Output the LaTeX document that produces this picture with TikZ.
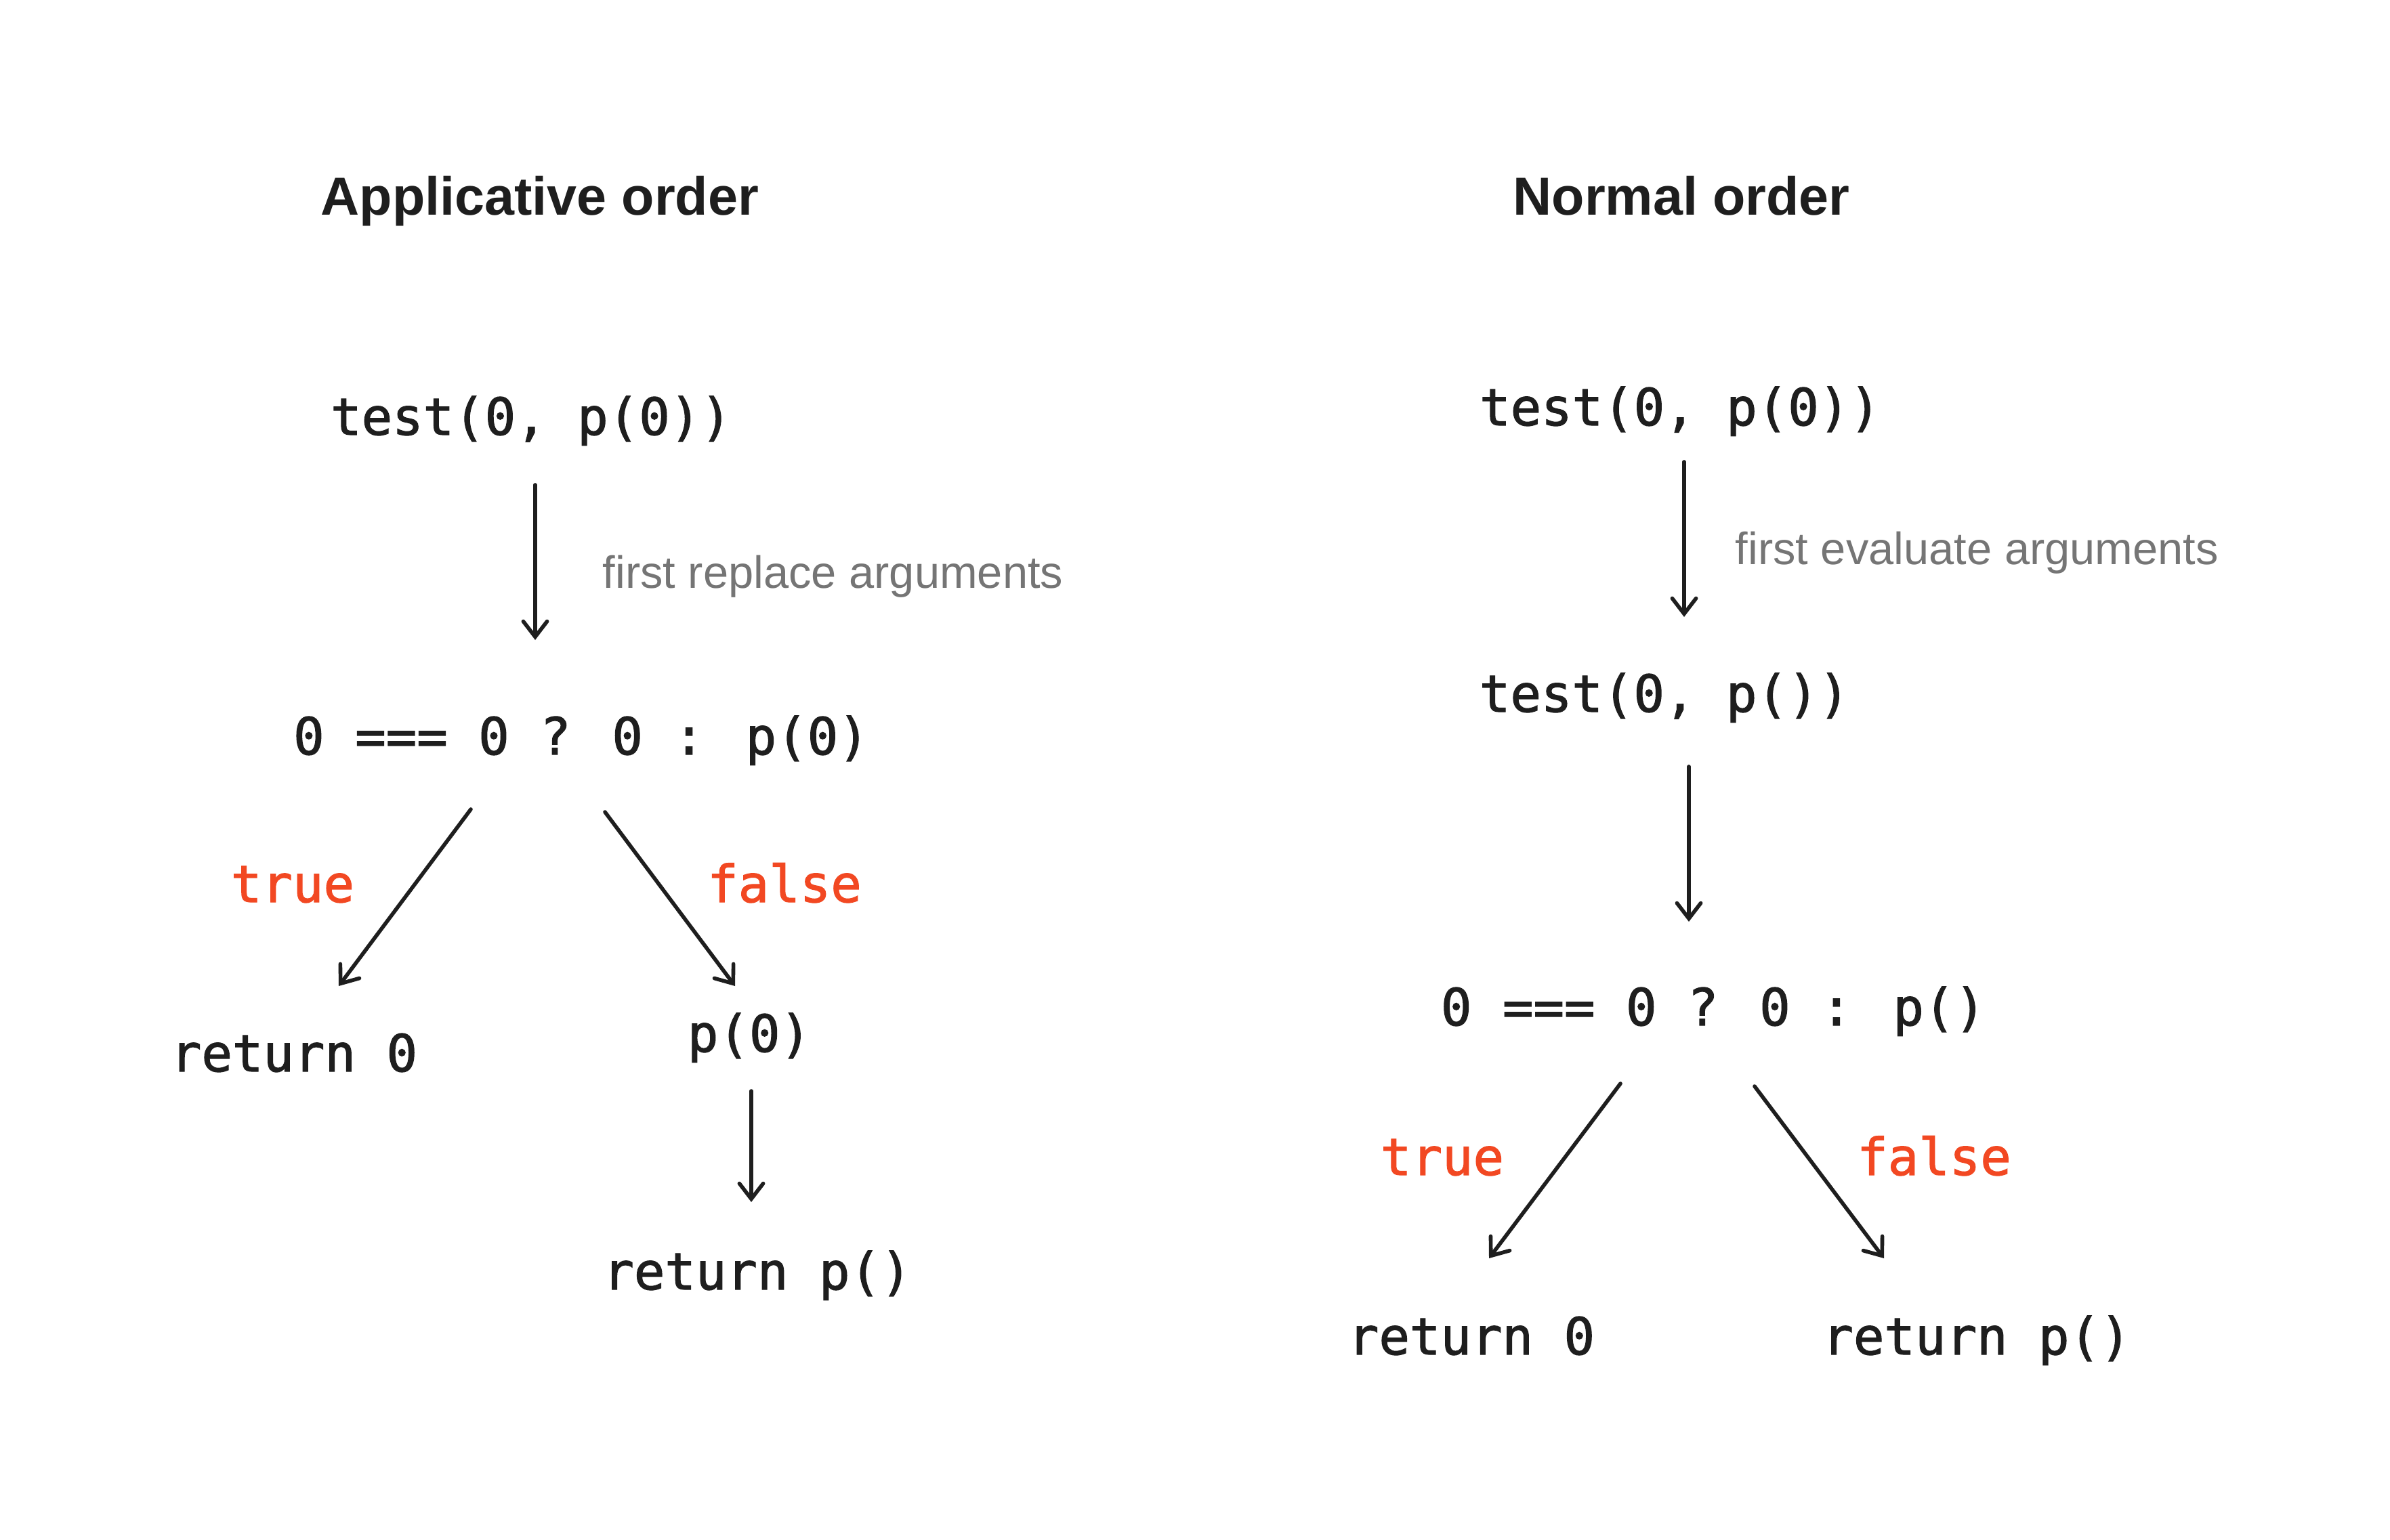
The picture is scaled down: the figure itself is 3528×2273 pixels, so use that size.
\documentclass[tikz,border=0pt]{standalone}
\usepackage{fontspec}
\setmainfont{Liberation Sans}
\newfontfamily\codefont[FakeBold=1.6]{DejaVu Sans Mono}
\usetikzlibrary{arrows.meta}
\definecolor{ink}{HTML}{1E1E1E}
\definecolor{branch}{HTML}{F24822}
\definecolor{notegray}{HTML}{757575}

\begin{document}
\begin{tikzpicture}[x=0.01cm,y=-0.01cm,
  title/.style={font=\fontsize{22.5}{27}\selectfont\bfseries, text=ink, inner sep=0, anchor=base},
  code/.style={font=\codefont\fontsize{21.5}{26}\selectfont, text=ink, inner sep=0, anchor=base},
  cond/.style={code, text=branch},
  note/.style={font=\fontsize{19}{23}\selectfont, text=notegray, inner sep=0, anchor=base west},
  arr/.style={draw=ink, line width=1.6pt, line cap=round, -{Straight Barb[length=6.5pt,width=10pt,line cap=round]}}]

\useasboundingbox[fill=white] (0,0) rectangle (3528,2273);

% ---- applicative order ----
\node[title] (ltitle) at (797,318) {Applicative order};
\node[code] (lcall) at (784,642) {test(0, p(0))};
\node[note] (lnote) at (889,868) {first replace arguments};
\node[code] (lcond) at (858,1114) {0 === 0 ? 0 : p(0)};
\node[cond] (ltrue) at (432,1332) {true};
\node[cond] (lfalse) at (1158,1332) {false};
\node[code] (lret0) at (434,1582) {return 0};
\node[code] (lp0) at (1106,1553) {p(0)};
\node[code] (lretp) at (1118,1904) {return p()};

\coordinate (la1) at (790,716);   \coordinate (la2) at (790,945);
\coordinate (lt1) at (695,1195);  \coordinate (lt2) at (500,1456);
\coordinate (lf1) at (893,1199);  \coordinate (lf2) at (1085,1456);
\coordinate (lp1) at (1109,1611); \coordinate (lp2) at (1109,1775);

\draw[arr] (la1) -- (la2);
\draw[arr] (lt1) -- (lt2);
\draw[arr] (lf1) -- (lf2);
\draw[arr] (lp1) -- (lp2);

% ---- normal order ----
\node[title] (rtitle) at (2482,318) {Normal order};
\node[code] (rcall) at (2480,628) {test(0, p(0))};
\node[note] (rnote) at (2561,833) {first evaluate arguments};
\node[code] (rsub) at (2457,1051) {test(0, p())};
\node[code] (rcond) at (2529,1514) {0 === 0 ? 0 : p()};
\node[cond] (rtrue) at (2129,1735) {true};
\node[cond] (rfalse) at (2855,1735) {false};
\node[code] (rret0) at (2172,2000) {return 0};
\node[code] (rretp) at (2918,2000) {return p()};

\coordinate (ra1) at (2486,682);  \coordinate (ra2) at (2486,911);
\coordinate (rb1) at (2493,1132); \coordinate (rb2) at (2493,1361);
\coordinate (rt1) at (2392,1600); \coordinate (rt2) at (2198,1858);
\coordinate (rf1) at (2590,1604); \coordinate (rf2) at (2781,1858);

\draw[arr] (ra1) -- (ra2);
\draw[arr] (rb1) -- (rb2);
\draw[arr] (rt1) -- (rt2);
\draw[arr] (rf1) -- (rf2);
\end{tikzpicture}
\end{document}
